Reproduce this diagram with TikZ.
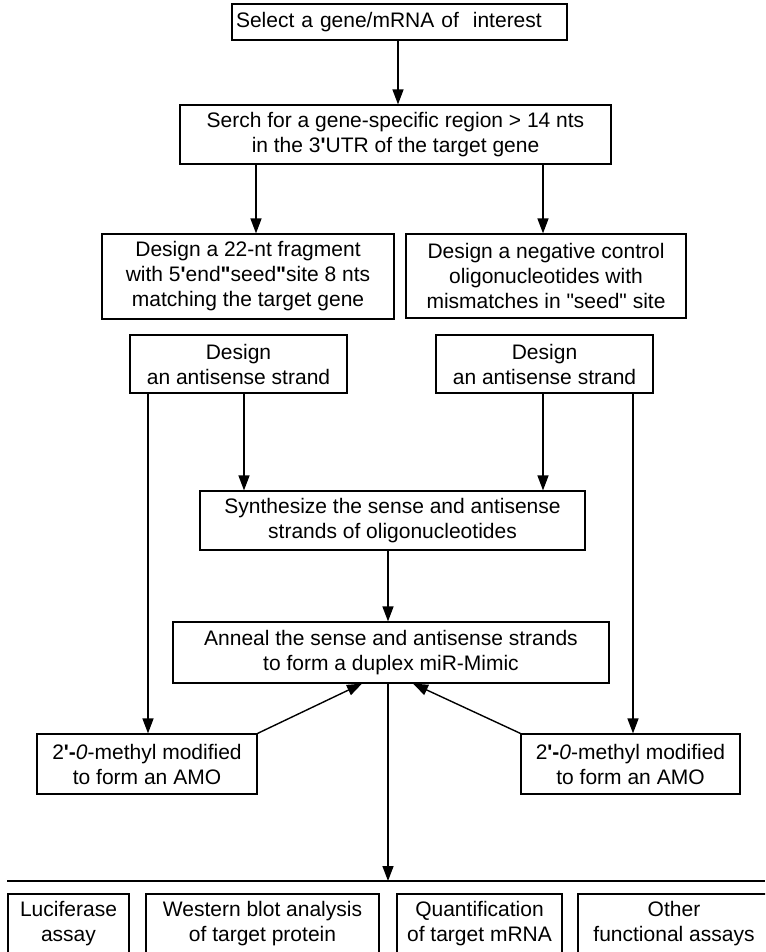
\documentclass[tikz,border=0pt]{standalone}
\usepackage{fontspec}
\setmainfont{Liberation Sans}
\usetikzlibrary{arrows.meta}
% bold straight prime and bold straight double quote
\newcommand{\prm}{\textbf{\textquotesingle}}
\newcommand{\dqb}{\textbf{\textquotedbl}}
\begin{document}
\begin{tikzpicture}[x=1pt,y=-1pt,
  box/.style={draw, line width=1.2pt, inner sep=0pt, align=center,
    font=\fontsize{21}{25}\selectfont},
  arr/.style={line width=1.4pt, -{Triangle[length=15pt,width=11pt]}}]
\useasboundingbox (0,0) rectangle (765,952);
\clip (0,0) rectangle (765,952);

% main flow boxes
\node[box, minimum width=335pt, minimum height=36pt, text width=327pt,
  align=left, inner xsep=4pt] (sel) at (399.5,22)
  {Select a gene/mRNA of~ interest};
\node[box, minimum width=431pt, minimum height=59pt] (search) at (395.5,134.5)
  {Serch for a gene-specific region > 14 nts\\in the 3\prm UTR of the target gene};
\node[box, minimum width=292pt, minimum height=85pt] (frag) at (248,276.5)
  {Design a 22-nt fragment\\with 5\prm end\dqb seed\dqb site 8 nts\\matching the target gene};
\node[box, minimum width=280pt, minimum height=84pt] (neg) at (546,276)
  {Design a negative control\\oligonucleotides with\\mismatches in \textquotedbl seed\textquotedbl\ site};
\node[box, minimum width=217pt, minimum height=58pt] (asL) at (238.5,364)
  {Design\\an antisense strand};
\node[box, minimum width=217pt, minimum height=58pt] (asR) at (544.5,364)
  {Design\\an antisense strand};
\node[box, minimum width=385pt, minimum height=59pt] (syn) at (392.5,520.5)
  {Synthesize the sense and antisense\\strands of oligonucleotides};
\node[box, minimum width=436pt, minimum height=61pt] (ann) at (391,652.5)
  {Anneal the sense and antisense strands\\to form a duplex miR-Mimic};
\node[box, minimum width=220pt, minimum height=60pt] (amoL) at (147,764)
  {2\prm\textbf{-}\textit{0}-methyl modified\\to form an AMO};
\node[box, minimum width=219pt, minimum height=60pt] (amoR) at (630.5,764)
  {2\prm\textbf{-}\textit{0}-methyl modified\\to form an AMO};

% assay boxes along the bottom
\node[box, minimum width=121pt, minimum height=60pt] (luc) at (68.5,924)
  {Luciferase\\assay};
\node[box, minimum width=233pt, minimum height=60pt] (west) at (262.5,924)
  {Western blot analysis\\of target protein};
\node[box, minimum width=165pt, minimum height=60pt] (quant) at (479.5,924)
  {Quantification\\of target mRNA};
\node[box, minimum width=192pt, minimum height=60pt] (other) at (674,924)
  {Other\\functional assays};

% horizontal bar above the assays
\coordinate (hlL) at (7,881);
\coordinate (hlR) at (765,881);
\draw[line width=1.4pt] (hlL) -- (hlR);

% x positions of the vertical connectors
\coordinate (xTop) at (398,0);
\coordinate (xA) at (256,0);
\coordinate (xB) at (543,0);
\coordinate (xL1) at (148,0);
\coordinate (xL2) at (244,0);
\coordinate (xR1) at (543,0);
\coordinate (xR2) at (633,0);
\coordinate (xM) at (388,0);
\coordinate (xDL) at (362,0);
\coordinate (xDR) at (413,0);

\draw[arr] (sel.south -| xTop) -- (search.north -| xTop);
\draw[arr] (search.south -| xA) -- (frag.north -| xA);
\draw[arr] (search.south -| xB) -- (neg.north -| xB);
\draw[arr] (asL.south -| xL1) -- (amoL.north -| xL1);
\draw[arr] (asL.south -| xL2) -- (syn.north -| xL2);
\draw[arr] (asR.south -| xR1) -- (syn.north -| xR1);
\draw[arr] (asR.south -| xR2) -- (amoR.north -| xR2);
\draw[arr] (syn.south -| xM) -- (ann.north -| xM);
\draw[arr] (amoL.north east) -- (ann.south -| xDL);
\draw[arr] (amoR.north west) -- (ann.south -| xDR);
\draw[arr] (ann.south -| xM) -- (hlL -| xM);
\end{tikzpicture}
\end{document}
